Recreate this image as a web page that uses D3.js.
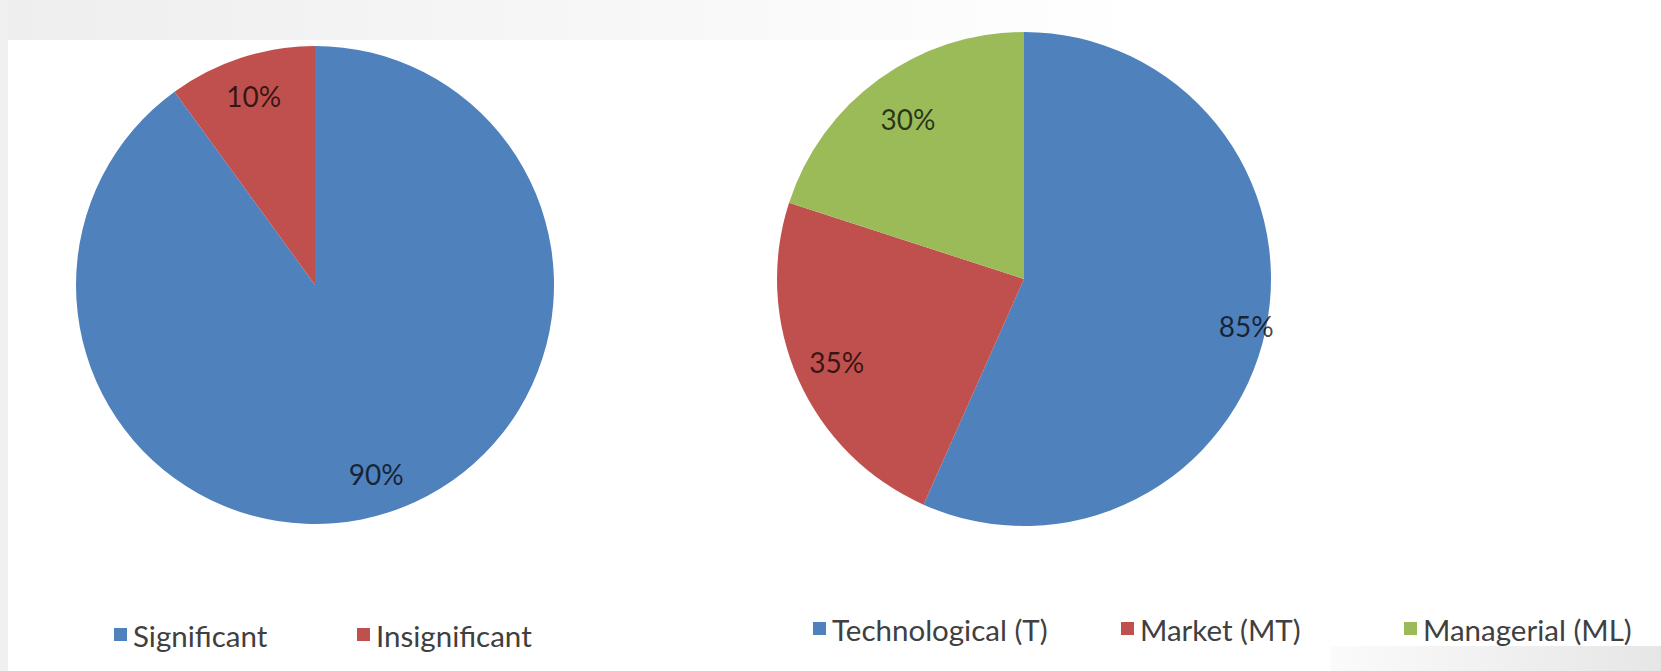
<!DOCTYPE html>
<html>
<head>
<meta charset="utf-8">
<script src="https://cdn.jsdelivr.net/npm/d3@7"></script>
<style>
  html, body { margin: 0; padding: 0; background: #ffffff; }
  svg { display: block; }
</style>
</head>
<body>
<svg id="chart" width="1661" height="671"></svg>
<script>
// ---- data ----
const impactCategories = ["Significant", "Insignificant"];
const impactValues = [90, 10];
const impactLabels = ["90%", "10%"];

const barrierCategories = ["Technological (T)", "Market (MT)", "Managerial (ML)"];
const barrierValues = [85, 35, 30];
const barrierLabels = ["85%", "35%", "30%"];

const palette = ["#4f81bd", "#c0504d", "#9bbb59"];

// ---- layout ----
const W = 1661, H = 671;
const svg = d3.select("#chart");
const defs = svg.append("defs");

// subtle background (slide look)
const gTop = defs.append("linearGradient").attr("id", "gTop").attr("x1", 0).attr("x2", 1).attr("y1", 0).attr("y2", 0);
gTop.append("stop").attr("offset", 0).attr("stop-color", "#eeeeee");
gTop.append("stop").attr("offset", 0.7).attr("stop-color", "#fafafa");
gTop.append("stop").attr("offset", 1).attr("stop-color", "#ffffff");
const gBR = defs.append("linearGradient").attr("id", "gBR").attr("x1", 0).attr("x2", 1).attr("y1", 0).attr("y2", 0);
gBR.append("stop").attr("offset", 0).attr("stop-color", "#fbfbfb");
gBR.append("stop").attr("offset", 1).attr("stop-color", "#e6e6e6");

svg.append("rect").attr("x", 0).attr("y", 0).attr("width", W).attr("height", H).attr("fill", "#ffffff");
svg.append("rect").attr("x", 0).attr("y", 0).attr("width", 1150).attr("height", 40).attr("fill", "url(#gTop)");
svg.append("rect").attr("x", 0).attr("y", 0).attr("width", 8).attr("height", H).attr("fill", "#f0f0f0");
svg.append("rect").attr("x", 1330).attr("y", 646).attr("width", W - 1330).attr("height", H - 646).attr("fill", "url(#gBR)");

const fontFamily = "Lato, 'Open Sans', sans-serif";

function drawPie(cfg) {
  const data = cfg.values.map((v, i) => ({ name: cfg.categories[i], value: v, label: cfg.labels[i], i }));
  const pie = d3.pie().value(d => d.value).sort(null);
  const arcs = pie(data);
  const arc = d3.arc().innerRadius(0).outerRadius(cfg.r);
  const g = svg.append("g").attr("transform", `translate(${cfg.cx},${cfg.cy})`);
  g.selectAll("path.slice").data(arcs).join("path")
    .attr("class", "slice")
    .attr("d", arc)
    .attr("fill", d => palette[d.data.i])
    .attr("stroke", "none");
  g.selectAll("text.lbl").data(arcs).join("text")
    .attr("class", "lbl")
    .attr("transform", d => {
      const lr = cfg.r * cfg.labelRadius[d.index];
      const a = d3.arc().innerRadius(lr).outerRadius(lr);
      const [x, y] = a.centroid(d);
      return `translate(${x},${y})`;
    })
    .attr("text-anchor", "middle")
    .attr("dominant-baseline", "central")
    .attr("font-family", fontFamily)
    .attr("font-size", 28)
    .attr("fill", "#000")
    .attr("fill-opacity", 0.72)
    .text(d => d.data.label);

  // legend
  const lg = svg.append("g");
  const items = lg.selectAll("g").data(data).join("g")
    .attr("transform", (d, i) => `translate(${cfg.legendX[i]},${cfg.legendY})`);
  items.append("rect")
    .attr("x", 0).attr("y", -7).attr("width", 13).attr("height", 13)
    .attr("fill", d => palette[d.i]);
  items.append("text")
    .attr("x", 19).attr("y", 0)
    .attr("dominant-baseline", "central")
    .attr("font-family", fontFamily)
    .attr("font-size", 29.5)
    .attr("fill", "#404040")
    .text(d => d.name);
}

drawPie({
  categories: impactCategories, values: impactValues, labels: impactLabels,
  cx: 315, cy: 285, r: 239, labelRadius: [0.83, 0.83],
  legendX: [114, 357], legendY: 635
});

drawPie({
  categories: barrierCategories, values: barrierValues, labels: barrierLabels,
  cx: 1024, cy: 279, r: 247, labelRadius: [0.92, 0.83, 0.80],
  legendX: [813, 1121, 1404], legendY: 629
});
</script>
</body>
</html>
